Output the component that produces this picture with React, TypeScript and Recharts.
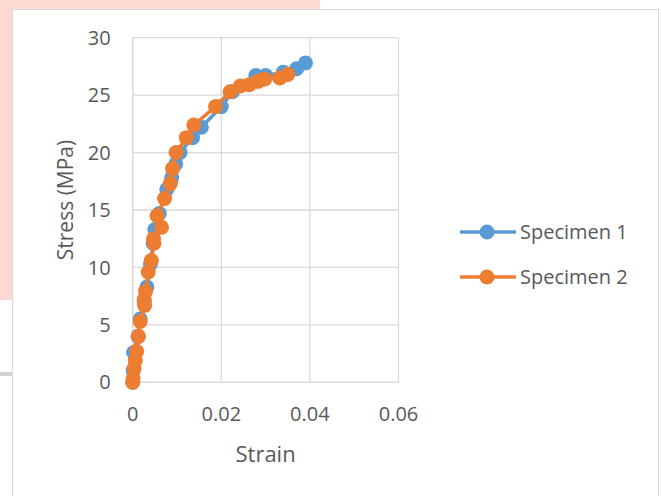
import React from 'react';
import { ScatterChart, Scatter, XAxis, YAxis, CartesianGrid, Label } from 'recharts';

const spec1Strain = [0, 0.0001, 0.0002, 0.0012, 0.0017, 0.0026, 0.0032, 0.004, 0.0046, 0.005, 0.006, 0.0077, 0.0088, 0.0097, 0.0107, 0.0135, 0.0155, 0.02, 0.0225, 0.0278, 0.03, 0.034, 0.037, 0.039];
const spec1Stress = [0, 1.0, 2.6, 4.0, 5.5, 7.0, 8.3, 10.3, 12.1, 13.3, 14.7, 16.8, 17.8, 19.0, 20.0, 21.3, 22.2, 24.0, 25.3, 26.7, 26.7, 27.0, 27.3, 27.8];

const spec2Strain = [0, 0.0001, 0.0003, 0.0006, 0.0009, 0.0013, 0.0017, 0.0027, 0.0026, 0.0029, 0.0035, 0.0042, 0.0048, 0.0047, 0.0065, 0.0055, 0.0072, 0.0085, 0.009, 0.0098, 0.0121, 0.0138, 0.0187, 0.022, 0.0243, 0.0263, 0.0283, 0.0298, 0.0332, 0.035];
const spec2Stress = [0, 0.3, 1.2, 1.9, 2.7, 4.0, 5.3, 6.7, 7.2, 7.9, 9.6, 10.6, 12.1, 12.5, 13.5, 14.5, 16.0, 17.3, 18.6, 20.0, 21.3, 22.4, 24.0, 25.3, 25.8, 25.9, 26.2, 26.4, 26.5, 26.8];

const xTicks = [0, 0.02, 0.04, 0.06];
const yTicks = [0, 5, 10, 15, 20, 25, 30];

const seriesNames = ['Specimen 1', 'Specimen 2'];
const seriesColors = ['#5B9BD5', '#ED7D31'];

const data1 = spec1Strain.map((x, i) => ({ x, y: spec1Stress[i] }));
const data2 = spec2Strain.map((x, i) => ({ x, y: spec2Stress[i] }));

const FONT = '"Open Sans", sans-serif';
const TEXT = '#595959';
const GRID = '#d9d9d9';

const dot = (color: string) => (props: any) => (
  <circle cx={props.cx} cy={props.cy} r={7.5} fill={color} />
);

export default function App() {
  return (
    <div style={{ position: 'absolute', left: 0, top: 0, width: 661, height: 496, overflow: 'hidden', background: '#fff', fontFamily: FONT }}>
      <div style={{ position: 'absolute', left: 0, top: 0, width: 320, height: 9, background: '#fdd9d4', zIndex: 0 }} />
      <div style={{ position: 'absolute', left: 0, top: 0, width: 12, height: 300, background: '#fdd9d4', zIndex: 0 }} />
      <div style={{ position: 'absolute', left: 0, top: 372, width: 12, height: 4, background: '#d3d3d3', zIndex: 0 }} />
      <div style={{ position: 'absolute', left: 12, top: 9, width: 647, height: 500, border: '1.5px solid #d9d9d9', background: '#ffffff', boxSizing: 'border-box', zIndex: 1 }} />
      <div style={{ position: 'absolute', left: 0, top: 0, zIndex: 2 }}>
        <ScatterChart width={661} height={496} margin={{ top: 37.7, right: 262.5, bottom: 33.7, left: 54.7 }}>
          <CartesianGrid stroke={GRID} strokeWidth={1.3} horizontalValues={yTicks} verticalValues={xTicks} />
          <XAxis
            type="number"
            dataKey="x"
            domain={[0, 0.06]}
            ticks={xTicks}
            tickFormatter={(v: number) => (v === 0 ? '0' : String(v))}
            height={80}
            tickSize={0}
            tickMargin={24}
            axisLine={{ stroke: GRID, strokeWidth: 1.3 }}
            tickLine={false}
            tick={{ fill: TEXT, fontSize: 20, fontFamily: FONT }}
          >
            <Label
              content={(p: any) => {
                const vb = p.viewBox || {};
                return (
                  <text x={vb.x + vb.width / 2} y={vb.y + 71} textAnchor="middle" dominantBaseline="central" fill={TEXT} fontSize={22} fontFamily={FONT}>
                    Strain
                  </text>
                );
              }}
            />
          </XAxis>
          <YAxis
            type="number"
            dataKey="y"
            domain={[0, 30]}
            ticks={yTicks}
            width={78}
            tickSize={0}
            tickMargin={22}
            axisLine={{ stroke: GRID, strokeWidth: 1.3 }}
            tickLine={false}
            tick={{ fill: TEXT, fontSize: 20, fontFamily: FONT }}
          >
            <Label
              content={(p: any) => {
                const vb = p.viewBox || {};
                const cx = vb.x + 10;
                const cy = vb.y + vb.height / 2 - 10;
                return (
                  <text x={cx} y={cy} transform={`rotate(-90 ${cx} ${cy})`} textAnchor="middle" dominantBaseline="central" fill={TEXT} fontSize={21} fontFamily={FONT}>
                    Stress (MPa)
                  </text>
                );
              }}
            />
          </YAxis>
          <Scatter
            name={seriesNames[0]}
            data={data1}
            fill={seriesColors[0]}
            line={{ stroke: seriesColors[0], strokeWidth: 3.5 }}
            shape={dot(seriesColors[0])}
            isAnimationActive={false}
          />
          <Scatter
            name={seriesNames[1]}
            data={data2}
            fill={seriesColors[1]}
            line={{ stroke: seriesColors[1], strokeWidth: 3.5 }}
            shape={dot(seriesColors[1])}
            isAnimationActive={false}
          />
        </ScatterChart>
      </div>
      <div style={{ position: 'absolute', left: 460, top: 209, zIndex: 3 }}>
        {seriesNames.map((name, i) => (
          <div key={name} style={{ display: 'flex', alignItems: 'center', height: 45 }}>
            <svg width={56} height={20} style={{ display: 'block' }}>
              <line x1={0} y1={10} x2={56} y2={10} stroke={seriesColors[i]} strokeWidth={3.5} />
              <circle cx={27} cy={10} r={7.5} fill={seriesColors[i]} />
            </svg>
            <span style={{ marginLeft: 4, fontSize: 20, color: TEXT, fontFamily: FONT, lineHeight: '20px', whiteSpace: 'nowrap' }}>{name}</span>
          </div>
        ))}
      </div>
    </div>
  );
}
